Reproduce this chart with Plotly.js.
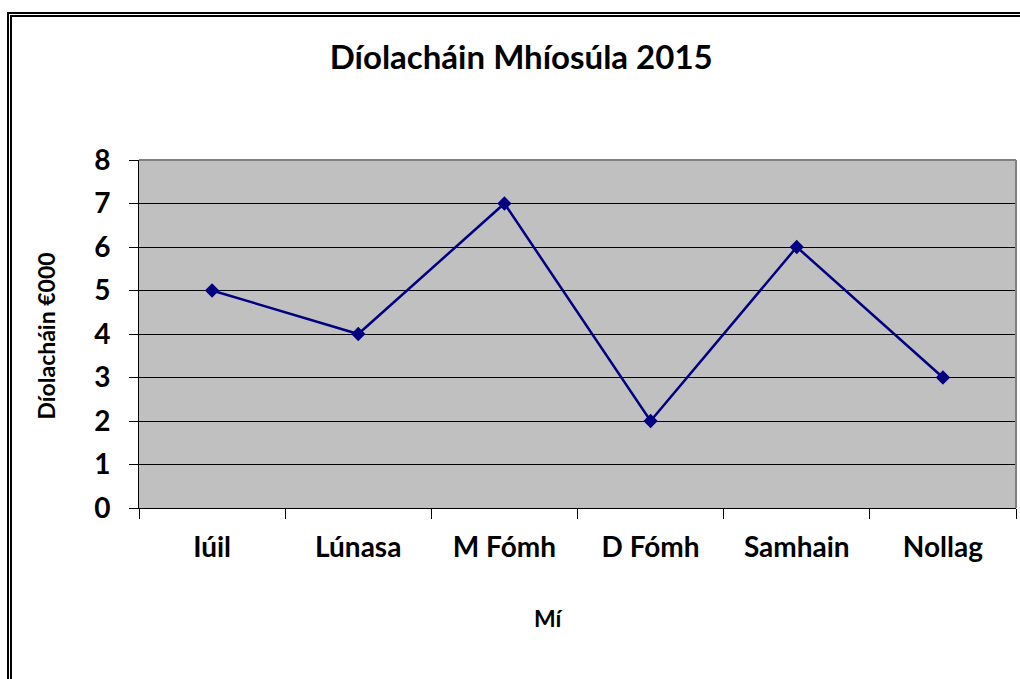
<!DOCTYPE html>
<html><head><meta charset="utf-8">
<script src="https://cdn.plot.ly/plotly-3.0.1.min.js"></script>
<style>
html,body{margin:0;padding:0;background:#fff;}
#wrap{position:relative;width:1020px;height:679px;overflow:hidden;}
#chart{position:absolute;left:0;top:0;width:1020px;height:679px;}
#frame{position:absolute;left:7px;top:12px;width:1100px;height:800px;border-left:5px double #000;border-top:5px double #000;pointer-events:none;}
</style></head>
<body><div id="wrap"><div id="chart"></div><div id="frame"></div></div>
<script>
const months = ["Iúil", "Lúnasa", "M Fómh", "D Fómh", "Samhain", "Nollag"];
const sales = [5, 4, 7, 2, 6, 3];
const chartTitle = "Díolacháin Mhíosúla 2015";
const xTitle = "Mí";
const yTitle = "Díolacháin €000";

const F = "Lato, 'Open Sans', sans-serif";
const trace = {
  x: months, y: sales, type: "scatter", mode: "lines+markers",
  line: {color: "#000080", width: 2.5},
  marker: {symbol: "diamond", size: 11, color: "#000080"},
  hoverinfo: "skip"
};
const layout = {
  width: 1020, height: 679,
  margin: {l: 138.5, r: 3.5, t: 160, b: 171, pad: 0},
  paper_bgcolor: "#ffffff", plot_bgcolor: "#C0C0C0",
  showlegend: false,
  title: {text: "<b>" + chartTitle + "</b>", font: {family: F, size: 33, color: "#000"},
          xref: "container", yref: "container", x: 0.511, xanchor: "center", y: 1 - 57/679, yanchor: "middle"},
  xaxis: {type: "category", showgrid: false, zeroline: false, showline: true, linecolor: "#000", linewidth: 1,
          ticks: "outside", tickson: "boundaries", ticklen: 10, tickcolor: "#000",
          tickfont: {family: F, size: 28, color: "#000", weight: "bold"}, ticklabelstandoff: 14,
          range: [-0.5, 5.5], fixedrange: true},
  yaxis: {range: [0, 8], dtick: 1, showgrid: true, gridcolor: "#000", gridwidth: 1, zeroline: false,
          showline: true, linecolor: "#000", linewidth: 1, ticks: "outside", ticklen: 9, tickcolor: "#000",
          tickfont: {family: F, size: 28, color: "#000", weight: "bold"}, ticklabelstandoff: 13, fixedrange: true},
  shapes: [
    {type: "line", xref: "paper", yref: "paper", x0: 0, x1: 1, y0: 1, y1: 1, line: {color: "#808080", width: 2}},
    {type: "line", xref: "paper", yref: "paper", x0: 1, x1: 1, y0: 0, y1: 1, line: {color: "#808080", width: 2}}
  ],
  annotations: [
    {text: "<b>" + xTitle + "</b>", xref: "paper", yref: "paper", x: (548-138.5)/878, y: -(618-508)/348,
     showarrow: false, xanchor: "center", yanchor: "middle", font: {family: F, size: 23, color: "#000"}},
    {text: "<b>" + yTitle + "</b>", xref: "paper", yref: "paper", x: -(138.5-45)/878, y: (508-336)/348,
     textangle: -90, showarrow: false, xanchor: "center", yanchor: "middle", font: {family: F, size: 23, color: "#000"}}
  ]
};
Plotly.newPlot("chart", [trace], layout, {displayModeBar: false, staticPlot: true});
</script></body></html>
